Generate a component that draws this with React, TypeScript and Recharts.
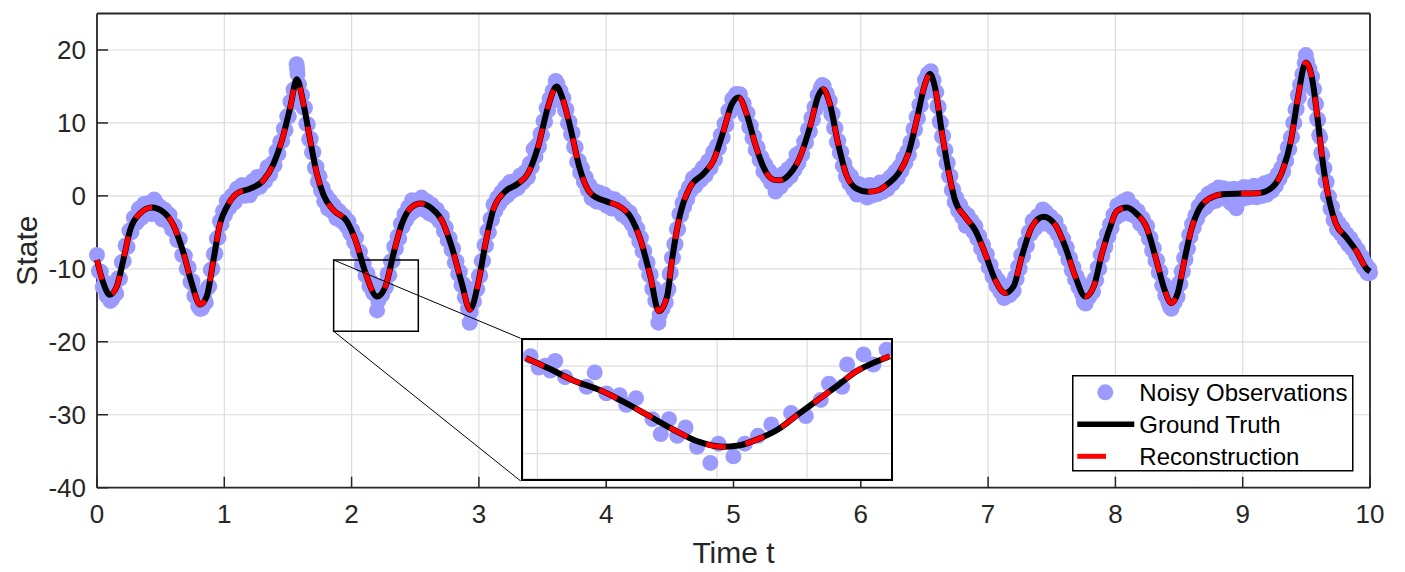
import React from "react";
import {
  ComposedChart,
  Line,
  Scatter,
  XAxis,
  YAxis,
  CartesianGrid,
  ReferenceArea,
  ReferenceLine,
  Legend,
} from "recharts";

// ---- data ----
const xTicks = [0, 1, 2, 3, 4, 5, 6, 7, 8, 9, 10];
const yTicks = [-40, -30, -20, -10, 0, 10, 20];

// [t, state]
const groundTruth: [number, number][] = [
  [0, -8.8], [0.05, -11.95], [0.1, -13.55], [0.155, -12.4], [0.207, -8.77], [0.26, -4.68],
  [0.338, -2.41], [0.43, -1.59], [0.52, -2.18], [0.6, -4.0], [0.68, -7.86], [0.744, -11.95],
  [0.81, -14.9], [0.862, -13.77], [0.915, -8.77], [0.967, -3.77], [1.02, -1.5], [1.098, 0.32],
  [1.203, 1.0], [1.308, 2.14], [1.387, 4.41], [1.452, 7.59], [1.518, 12.14], [1.57, 16.0],
  [1.622, 12.6], [1.675, 7.59], [1.727, 3.05], [1.78, 0.09], [1.858, -1.95], [1.963, -3.5],
  [2.03, -6.05], [2.11, -10.6], [2.2, -13.8], [2.266, -12.4], [2.33, -7.86], [2.396, -3.77],
  [2.474, -1.5], [2.54, -1.05], [2.63, -1.73], [2.708, -3.32], [2.786, -6.95], [2.865, -11.95],
  [2.93, -15.6], [2.995, -11.95], [3.047, -6.95], [3.112, -1.95], [3.203, 0.55], [3.307, 1.68],
  [3.385, 3.05], [3.464, 6.68], [3.542, 12.14], [3.61, 15.0], [3.66, 13.2], [3.724, 8.95],
  [3.789, 3.95], [3.88, 0.32], [4.01, -0.82], [4.086, -1.27], [4.19, -2.86], [4.27, -6.05],
  [4.347, -11.05], [4.413, -15.8], [4.478, -13.8], [4.517, -8.77], [4.582, -2.41], [4.66, 1.23],
  [4.765, 3.05], [4.843, 4.86], [4.922, 8.95], [4.987, 12.6], [5.04, 13.5], [5.104, 11.2],
  [5.17, 7.14], [5.235, 3.95], [5.313, 2.23], [5.366, 2.14], [5.444, 3.05], [5.522, 5.32],
  [5.6, 9.41], [5.666, 13.7], [5.705, 14.6], [5.757, 12.6], [5.822, 7.14], [5.888, 2.82],
  [5.966, 1.0], [6.057, 0.55], [6.136, 0.77], [6.215, 1.68], [6.294, 3.05], [6.373, 5.77],
  [6.438, 10.3], [6.504, 15.3], [6.543, 16.7], [6.583, 14.86], [6.635, 8.95], [6.688, 3.5],
  [6.74, -0.59], [6.819, -2.86], [6.898, -4.68], [6.976, -7.86], [7.055, -11.5], [7.134, -13.3],
  [7.2, -12.4], [7.265, -8.3], [7.344, -4.23], [7.436, -2.86], [7.528, -4.0], [7.606, -6.95],
  [7.685, -11.05], [7.764, -13.8], [7.83, -12.4], [7.895, -7.86], [7.96, -4.23], [8.01, -2.1],
  [8.09, -1.6], [8.164, -2.41], [8.243, -4.23], [8.321, -8.77], [8.386, -12.86], [8.439, -14.7],
  [8.49, -13.3], [8.543, -8.77], [8.595, -4.68], [8.66, -1.73], [8.739, -0.36], [8.843, 0.23],
  [9.0, 0.32], [9.13, 0.41], [9.235, 1.23], [9.313, 3.5], [9.379, 7.59], [9.43, 13.05],
  [9.496, 18.3], [9.548, 15.8], [9.587, 10.8], [9.627, 4.86], [9.679, -0.59], [9.731, -3.77],
  [9.81, -5.6], [9.888, -7.41], [9.979, -10.1], [10, -10.36],
];

// the reconstruction sits on top of the truth at this scale
const reconstruction = groundTruth;

const observations: [number, number][] = [
  [0, -8.1], [0.015, -10.3], [0.03, -10.4], [0.045, -12.5], [0.06, -11.8], [0.075, -13.7], [0.09, -13.8],
  [0.105, -14.4], [0.12, -14.1], [0.135, -12.6], [0.15, -13.4], [0.165, -11.3], [0.18, -11.35], [0.195, -9.1],
  [0.21, -8.95], [0.225, -6.8], [0.24, -7.0], [0.255, -4.75], [0.27, -5.0], [0.29, -3.0], [0.31, -3.7],
  [0.33, -1.75], [0.35, -3.0], [0.37, -1.1], [0.39, -2.35], [0.41, -0.97], [0.43, -2.5], [0.45, -0.5],
  [0.47, -2.35], [0.49, -1.4], [0.51, -3.2], [0.53, -1.9], [0.55, -3.5], [0.57, -2.6], [0.59, -4.6],
  [0.61, -4.1], [0.63, -6.05], [0.65, -5.9], [0.67, -8.1], [0.69, -8.2], [0.705, -9.95], [0.72, -9.8],
  [0.735, -11.8], [0.75, -11.7], [0.765, -13.7], [0.78, -13.25], [0.795, -15.1], [0.81, -15.5], [0.825, -15.4],
  [0.84, -13.75], [0.855, -14.6], [0.87, -12.6], [0.882, -12.4], [0.894, -10.15], [0.906, -10.0], [0.918, -8.0],
  [0.93, -7.9], [0.942, -5.87], [0.954, -5.7], [0.966, -3.47], [0.978, -3.9], [0.99, -2.1], [1.005, -2.65],
  [1.02, -0.7], [1.04, -1.6], [1.06, 0.03], [1.08, -0.9], [1.1, 1.0], [1.12, -0.04], [1.14, 1.5],
  [1.16, 0.02], [1.18, 1.25], [1.2, 0.08], [1.22, 1.99], [1.24, 1.0], [1.26, 2.6], [1.28, 1.24],
  [1.3, 2.75], [1.32, 1.98], [1.34, 3.96], [1.36, 2.93], [1.38, 4.5], [1.395, 4.2], [1.41, 6.14],
  [1.425, 5.77], [1.44, 7.4], [1.455, 7.5], [1.468, 9.2], [1.481, 9.0], [1.494, 10.9], [1.507, 10.9],
  [1.52, 12.9], [1.532, 12.8], [1.544, 14.57], [1.556, 14.36], [1.568, 18.05], [1.572, 17.4], [1.575, 16.7],
  [1.587, 15.3], [1.599, 13.6], [1.611, 13.8], [1.623, 12.1], [1.634, 12.07], [1.645, 9.9], [1.656, 9.8],
  [1.667, 7.75], [1.678, 7.83], [1.689, 5.97], [1.7, 6.0], [1.712, 3.86], [1.724, 4.01], [1.736, 1.95],
  [1.748, 2.68], [1.76, 0.7], [1.772, 1.14], [1.785, -0.74], [1.8, 0.07], [1.815, -1.73], [1.83, -0.62],
  [1.845, -2.1], [1.86, -1.28], [1.88, -3.08], [1.9, -2.07], [1.92, -3.46], [1.94, -2.76], [1.96, -4.16],
  [1.975, -3.46], [1.99, -5.13], [2.005, -4.7], [2.02, -6.37], [2.035, -5.73], [2.05, -7.69], [2.065, -7.64],
  [2.08, -9.5], [2.095, -9.25], [2.11, -10.9], [2.125, -10.63], [2.14, -12.37], [2.155, -11.8], [2.17, -13.33],
  [2.185, -12.97], [2.2, -15.7], [2.21, -14.4], [2.225, -12.9], [2.24, -13.55], [2.255, -12.13], [2.27, -12.5],
  [2.283, -10.7], [2.296, -10.87], [2.309, -8.95], [2.322, -8.93], [2.335, -6.95], [2.348, -7.24], [2.361, -5.54],
  [2.374, -5.83], [2.387, -3.83], [2.4, -4.25], [2.415, -2.5], [2.43, -3.28], [2.445, -1.54], [2.46, -2.5],
  [2.475, -0.6], [2.49, -2.09], [2.51, -0.65], [2.53, -1.62], [2.55, -0.23], [2.57, -1.88], [2.59, -0.73],
  [2.61, -2.38], [2.63, -1.23], [2.65, -2.74], [2.67, -1.85], [2.69, -3.45], [2.71, -2.81], [2.725, -4.81],
  [2.74, -4.31], [2.755, -6.11], [2.77, -5.8], [2.785, -7.4], [2.798, -7.2], [2.811, -9.13], [2.824, -8.96],
  [2.837, -10.68], [2.85, -10.4], [2.863, -12.22], [2.876, -12.07], [2.889, -13.9], [2.902, -13.73], [2.915, -15.46],
  [2.928, -17.39], [2.935, -15.92], [2.948, -14.19], [2.961, -14.46], [2.974, -12.63], [2.987, -12.8], [3.0, -10.97],
  [3.011, -10.91], [3.022, -8.95], [3.033, -8.9], [3.044, -6.74], [3.055, -6.83], [3.067, -4.81], [3.079, -4.99],
  [3.091, -3.17], [3.103, -3.24], [3.115, -1.17], [3.13, -2.05], [3.145, -0.24], [3.16, -1.13], [3.175, 0.48],
  [3.19, -0.41], [3.205, 1.17], [3.225, 0.09], [3.245, 1.91], [3.265, 0.72], [3.285, 2.04], [3.305, 1.06],
  [3.325, 2.8], [3.345, 1.85], [3.365, 3.3], [3.385, 2.55], [3.4, 4.44], [3.415, 3.93], [3.43, 6.42],
  [3.445, 5.41], [3.46, 7.0], [3.472, 6.74], [3.484, 8.48], [3.496, 8.32], [3.508, 10.26], [3.52, 10.2],
  [3.532, 12.04], [3.544, 11.72], [3.556, 13.33], [3.568, 12.84], [3.58, 14.44], [3.592, 13.94], [3.604, 15.75],
  [3.616, 15.38], [3.628, 13.95], [3.64, 14.42], [3.652, 12.99], [3.664, 13.44], [3.676, 11.74], [3.688, 11.84],
  [3.7, 9.94], [3.712, 10.15], [3.724, 8.45], [3.736, 8.63], [3.748, 6.7], [3.76, 6.68], [3.772, 4.66],
  [3.784, 4.83], [3.796, 3.17], [3.81, 3.81], [3.825, 1.91], [3.84, 2.52], [3.855, 0.82], [3.87, 1.42],
  [3.885, -0.32], [3.905, 0.7], [3.925, -0.77], [3.945, 0.45], [3.965, -0.92], [3.985, 0.2], [4.005, -1.38],
  [4.025, -0.31], [4.045, -1.73], [4.065, -0.45], [4.085, -1.77], [4.105, -0.96], [4.125, -2.57], [4.145, -1.67],
  [4.165, -3.08], [4.185, -2.28], [4.2, -3.86], [4.215, -3.26], [4.23, -4.96], [4.245, -4.45], [4.26, -6.25],
  [4.273, -5.75], [4.286, -7.59], [4.299, -7.54], [4.312, -9.38], [4.325, -9.12], [4.338, -10.87], [4.35, -10.77],
  [4.362, -12.73], [4.374, -12.6], [4.386, -14.36], [4.398, -14.42], [4.41, -17.38], [4.42, -16.28], [4.432, -14.7],
  [4.444, -15.45], [4.456, -14.08], [4.468, -14.6], [4.48, -13.04], [4.489, -12.78], [4.498, -10.72], [4.507, -10.56],
  [4.516, -8.5], [4.525, -8.49], [4.535, -6.61], [4.545, -6.63], [4.555, -4.55], [4.565, -4.57], [4.575, -2.49],
  [4.588, -2.63], [4.6, -0.97], [4.612, -1.51], [4.624, 0.15], [4.636, -0.49], [4.648, 1.17], [4.66, 0.63],
  [4.68, 2.38], [4.7, 1.33], [4.72, 2.97], [4.74, 2.12], [4.76, 3.86], [4.78, 2.8], [4.8, 4.76],
  [4.82, 3.82], [4.84, 5.99], [4.855, 4.98], [4.87, 6.86], [4.885, 6.54], [4.9, 8.31], [4.915, 7.99],
  [4.93, 9.9], [4.945, 9.74], [4.96, 11.68], [4.975, 11.53], [4.99, 13.25], [5.005, 12.4], [5.02, 13.96],
  [5.035, 13.82], [5.05, 13.94], [5.065, 12.1], [5.08, 12.66], [5.095, 11.02], [5.11, 11.33], [5.123, 9.43],
  [5.136, 9.63], [5.149, 7.93], [5.162, 8.13], [5.175, 6.29], [5.19, 6.66], [5.205, 4.92], [5.22, 5.29],
  [5.235, 3.35], [5.25, 4.32], [5.265, 2.69], [5.28, 3.46], [5.295, 1.83], [5.31, 2.7], [5.33, 0.6],
  [5.35, 2.67], [5.37, 1.29], [5.39, 3.02], [5.41, 2.05], [5.43, 3.69], [5.45, 2.72], [5.465, 4.26],
  [5.48, 3.6], [5.495, 5.64], [5.51, 4.47], [5.525, 5.98], [5.54, 5.66], [5.555, 7.44], [5.57, 7.32],
  [5.585, 9.1], [5.6, 8.81], [5.612, 10.69], [5.624, 10.47], [5.636, 12.15], [5.648, 11.93], [5.66, 13.81],
  [5.672, 13.44], [5.684, 14.72], [5.696, 15.19], [5.708, 15.08], [5.72, 13.62], [5.732, 14.06], [5.744, 12.6],
  [5.756, 13.04], [5.768, 11.18], [5.779, 11.25], [5.79, 9.33], [5.801, 9.3], [5.812, 7.38], [5.823, 7.57],
  [5.835, 5.89], [5.847, 6.01], [5.859, 4.12], [5.871, 4.44], [5.883, 2.65], [5.895, 3.26], [5.91, 1.71],
  [5.925, 2.66], [5.94, 0.91], [5.955, 1.76], [5.97, 0.18], [5.99, 1.58], [6.01, 0.18], [6.03, 1.28],
  [6.05, -0.22], [6.07, 1.49], [6.09, 0.04], [6.11, 1.3], [6.13, 0.25], [6.15, 1.83], [6.17, 0.56],
  [6.19, 1.89], [6.21, 0.92], [6.23, 2.54], [6.25, 1.69], [6.27, 3.33], [6.29, 2.48], [6.305, 4.03],
  [6.32, 3.44], [6.335, 5.16], [6.35, 4.48], [6.365, 6.09], [6.378, 5.62], [6.39, 7.36], [6.402, 7.19],
  [6.414, 9.13], [6.426, 9.06], [6.438, 10.8], [6.449, 10.63], [6.46, 12.47], [6.471, 12.4], [6.482, 14.13],
  [6.493, 13.97], [6.504, 15.9], [6.515, 15.29], [6.527, 16.73], [6.539, 16.86], [6.55, 17.08], [6.561, 15.47],
  [6.572, 15.87], [6.583, 14.36], [6.593, 14.22], [6.602, 12.3], [6.611, 12.18], [6.62, 10.16], [6.629, 10.03],
  [6.638, 8.14], [6.647, 8.22], [6.656, 6.19], [6.665, 6.27], [6.674, 4.44], [6.683, 4.51], [6.693, 2.71],
  [6.704, 2.74], [6.715, 0.77], [6.726, 0.9], [6.737, -0.85], [6.75, -0.28], [6.765, -2.01], [6.78, -1.24],
  [6.795, -2.87], [6.81, -2.2], [6.825, -4.1], [6.84, -2.64], [6.855, -4.19], [6.87, -3.44], [6.885, -4.88],
  [6.9, -4.16], [6.915, -5.87], [6.93, -5.48], [6.945, -7.2], [6.96, -6.71], [6.975, -8.32], [6.99, -8.0],
  [7.005, -9.8], [7.02, -9.49], [7.035, -11.08], [7.05, -10.87], [7.065, -12.33], [7.08, -11.57], [7.095, -13.11],
  [7.11, -12.45], [7.125, -14.0], [7.14, -13.82], [7.155, -12.61], [7.17, -13.61], [7.185, -12.1], [7.2, -13.0],
  [7.212, -11.14], [7.224, -11.39], [7.236, -9.73], [7.248, -9.97], [7.26, -8.12], [7.275, -8.29], [7.29, -6.51],
  [7.305, -6.84], [7.32, -4.97], [7.335, -5.19], [7.35, -3.44], [7.37, -4.44], [7.39, -2.75], [7.41, -3.85],
  [7.43, -1.85], [7.45, -2.13], [7.47, -3.88], [7.49, -2.83], [7.51, -4.38], [7.53, -3.48], [7.545, -5.24],
  [7.56, -4.71], [7.575, -6.38], [7.59, -5.85], [7.605, -7.41], [7.618, -7.07], [7.631, -8.75], [7.644, -8.52],
  [7.657, -10.2], [7.67, -9.77], [7.683, -11.45], [7.696, -11.03], [7.71, -12.52], [7.724, -12.0], [7.738, -13.49],
  [7.752, -14.48], [7.766, -14.76], [7.78, -13.06], [7.795, -13.84], [7.81, -12.42], [7.825, -13.11], [7.837, -11.41],
  [7.849, -11.57], [7.861, -9.84], [7.873, -10.0], [7.885, -8.06], [7.897, -8.25], [7.909, -6.68], [7.921, -7.01],
  [7.933, -5.24], [7.945, -5.57], [7.957, -3.9], [7.97, -4.4], [7.985, -2.57], [8.0, -3.03], [8.015, -1.27],
  [8.035, -2.64], [8.055, -0.82], [8.075, -2.19], [8.095, -0.46], [8.115, -2.48], [8.135, -1.39], [8.155, -2.81],
  [8.175, -2.06], [8.195, -3.82], [8.215, -3.09], [8.235, -4.65], [8.25, -4.14], [8.263, -5.89], [8.276, -5.75],
  [8.289, -7.51], [8.302, -7.17], [8.315, -8.92], [8.328, -8.81], [8.341, -10.53], [8.354, -10.35], [8.367, -12.26],
  [8.38, -12.08], [8.392, -13.67], [8.404, -13.18], [8.416, -14.6], [8.428, -15.22], [8.44, -15.47], [8.452, -13.94],
  [8.464, -14.61], [8.476, -13.28], [8.488, -13.86], [8.5, -11.95], [8.51, -12.1], [8.52, -10.34], [8.53, -10.38],
  [8.54, -8.53], [8.55, -8.72], [8.56, -7.03], [8.57, -7.25], [8.58, -5.36], [8.59, -5.57], [8.602, -3.86],
  [8.615, -4.38], [8.628, -2.69], [8.641, -3.2], [8.654, -1.4], [8.67, -2.16], [8.69, -0.51], [8.71, -1.56],
  [8.73, 0.28], [8.75, -0.9], [8.77, 0.71], [8.79, -0.67], [8.81, 1.14], [8.83, -0.34], [8.85, 1.03],
  [8.87, -0.45], [8.89, 0.86], [8.91, -1.03], [8.93, 0.98], [8.95, -1.71], [8.97, 0.8], [8.99, -0.49],
  [9.01, 1.23], [9.03, -0.26], [9.05, 1.15], [9.07, -0.13], [9.09, 1.38], [9.11, -0.2], [9.13, 1.21],
  [9.15, -0.03], [9.17, 1.72], [9.19, 0.18], [9.21, 1.93], [9.23, 0.69], [9.245, 2.22], [9.26, 1.36],
  [9.275, 2.99], [9.29, 2.33], [9.305, 3.87], [9.318, 3.31], [9.33, 5.05], [9.342, 4.8], [9.354, 6.64],
  [9.366, 6.38], [9.378, 8.03], [9.388, 8.05], [9.397, 10.02], [9.406, 9.98], [9.415, 11.85], [9.424, 11.91],
  [9.433, 13.79], [9.442, 13.51], [9.451, 15.23], [9.46, 15.05], [9.469, 16.67], [9.478, 16.48], [9.487, 18.2],
  [9.496, 19.3], [9.505, 18.47], [9.515, 16.99], [9.525, 17.41], [9.535, 15.92], [9.545, 16.34], [9.553, 14.66],
  [9.561, 14.63], [9.569, 12.7], [9.577, 12.58], [9.585, 10.56], [9.593, 10.41], [9.601, 8.32], [9.609, 8.03],
  [9.617, 5.84], [9.625, 5.56], [9.633, 3.73], [9.642, 3.79], [9.651, 1.95], [9.66, 1.9], [9.669, -0.04],
  [9.678, -0.09], [9.69, -1.76], [9.702, -1.49], [9.714, -3.33], [9.726, -2.96], [9.74, -4.58], [9.755, -3.73],
  [9.77, -5.17], [9.785, -4.42], [9.8, -5.97], [9.815, -5.22], [9.83, -6.66], [9.845, -5.81], [9.86, -7.26],
  [9.875, -6.61], [9.89, -8.07], [9.905, -7.41], [9.92, -8.95], [9.935, -8.3], [9.95, -9.84], [9.965, -9.29],
  [9.98, -10.6], [9.995, -10.0], [10, -10.56],
];

// magnified view (inset)
const insetXTicks = [2.1, 2.2, 2.25];
const insetYTicks = [-14, -12, -10];

const insetTruth: [number, number][] = [
  [2.0936, -9.63], [2.1074, -10.15], [2.1203, -10.67], [2.135, -11.11], [2.1478, -11.63], [2.1606, -12.21],
  [2.1753, -12.89], [2.19, -13.47], [2.2028, -13.69], [2.212, -13.63], [2.223, -13.33], [2.234, -12.89],
  [2.245, -12.21], [2.256, -11.55], [2.267, -10.89], [2.278, -10.21], [2.287, -9.85], [2.296, -9.55],
];

const insetObs: [number, number][] = [
  [2.0962, -9.55], [2.1007, -10.07], [2.1044, -9.99], [2.1072, -10.21], [2.1099, -9.77], [2.1154, -10.51],
  [2.1274, -10.95], [2.1319, -10.29], [2.1384, -11.25], [2.1457, -11.33], [2.1494, -11.77], [2.1549, -11.47],
  [2.164, -12.43], [2.1686, -13.11], [2.1732, -12.43], [2.1778, -13.19], [2.1824, -12.81], [2.1888, -13.69],
  [2.1962, -14.43], [2.2007, -13.55], [2.209, -14.13], [2.2154, -13.55], [2.2227, -13.19], [2.2301, -12.67],
  [2.2411, -12.15], [2.2493, -12.29], [2.2576, -11.55], [2.2622, -10.81], [2.2695, -10.95], [2.2723, -9.93],
  [2.2814, -9.47], [2.2869, -9.93], [2.2942, -9.25],
];

const legendItems = [
  { label: "Noisy Observations", kind: "dot" },
  { label: "Ground Truth", kind: "solid" },
  { label: "Reconstruction", kind: "dash" },
];

// ---- look ----
const FONT = '"Liberation Sans", Arial, Helvetica, sans-serif';
const AXIS_COLOR = "#262626";
const GRID_COLOR = "#dcdcdc";
const OBS_COLOR = "#9b9bff";
const RED = "#ff0000";
const DASH = "20 20";
const TRUTH_W = 6;
const RECON_W = 5;
const DOT_R = 8;

const W = 1405;
const H = 572;
// plot box in page pixels (margins below are chosen to land on it)
const PLOT = { left: 97, top: 13.5, right: 1370, bottom: 487.7 };
const X_DOMAIN: [number, number] = [0, 10];
const Y_DOMAIN: [number, number] = [-40, 25];
const plotMargin = { top: PLOT.top, left: PLOT.left, right: W - PLOT.right, bottom: H - PLOT.bottom };

const toPx = (t: number) =>
  PLOT.left + ((t - X_DOMAIN[0]) / (X_DOMAIN[1] - X_DOMAIN[0])) * (PLOT.right - PLOT.left);
const toPy = (s: number) =>
  PLOT.top + ((Y_DOMAIN[1] - s) / (Y_DOMAIN[1] - Y_DOMAIN[0])) * (PLOT.bottom - PLOT.top);

// zoom rectangle and where the inset sits, in main-axis units
const zoomBox = { t0: 1.859, t1: 2.524, s0: -18.56, s1: -8.79 };
const insetAt = { t0: 3.328, t1: 6.255, s0: -39.08, s1: -19.52 };
const insetDomainX: [number, number] = [2.092, 2.297];
const insetDomainY: [number, number] = [-15.15, -8.81];

const toRows = (pts: [number, number][]) => pts.map(([t, s]) => ({ t, s }));
const truthData = toRows(groundTruth);
const reconData = toRows(reconstruction);
const obsData = toRows(observations);
const insetTruthData = toRows(insetTruth);
const insetObsData = toRows(insetObs);

const tickStyle = { fill: AXIS_COLOR, fontSize: 26, fontFamily: FONT };
const tickLineStyle = { stroke: AXIS_COLOR, strokeWidth: 1.5 };
const axisLineStyle = { stroke: AXIS_COLOR, strokeWidth: 1.8 };
const blank = () => "";
const layer: React.CSSProperties = { position: "absolute", left: 0, top: 0 };

const ObsDot = (p: any) => <circle cx={p.cx} cy={p.cy} r={DOT_R} fill={OBS_COLOR} />;

function XTitle(props: any) {
  const vb = props.viewBox ?? { x: 97, y: 487.7, width: 1273, height: 50 };
  return (
    <text x={vb.x + vb.width / 2} y={vb.y + 75} textAnchor="middle" fill={AXIS_COLOR} fontSize={30} fontFamily={FONT}>
      Time t
    </text>
  );
}

function YTitle(props: any) {
  const vb = props.viewBox ?? { x: 7, y: 13.5, width: 90, height: 474 };
  const x = vb.x + 30;
  const y = vb.y + vb.height / 2;
  return (
    <text x={x} y={y} transform={`rotate(-90 ${x} ${y})`} textAnchor="middle" fill={AXIS_COLOR} fontSize={30} fontFamily={FONT}>
      State
    </text>
  );
}

function LegendBox() {
  const rowH = 32;
  return (
    <svg width={282} height={97} style={{ display: "block" }}>
      <rect x={0.75} y={0.75} width={280} height={95} fill="#fff" stroke="#000" strokeWidth={1.5} />
      {legendItems.map((it, i) => {
        const cy = 17.3 + i * rowH;
        return (
          <g key={it.label}>
            {it.kind === "dot" && <circle cx={33.3} cy={cy} r={8} fill={OBS_COLOR} />}
            {it.kind === "solid" && <line x1={5.3} x2={62.3} y1={cy} y2={cy} stroke="#000" strokeWidth={5.5} />}
            {it.kind === "dash" && <line x1={5.3} x2={34} y1={cy} y2={cy} stroke={RED} strokeWidth={5} />}
            <text x={67.3} y={cy + 8.6} fontSize={24} fontFamily={FONT} fill="#000">
              {it.label}
            </text>
          </g>
        );
      })}
    </svg>
  );
}

// Two stacked charts with identical scales: the observations underneath,
// the truth and reconstruction lines on top of them.
function Inset() {
  const left = toPx(insetAt.t0);
  const top = toPy(insetAt.s1);
  const width = toPx(insetAt.t1) - left;
  const height = toPy(insetAt.s0) - top;
  const iw = width - 4;
  const ih = height - 4;
  const m = { top: 0, right: 0, bottom: 0, left: 0 };
  return (
    <div
      style={{
        position: "absolute",
        left,
        top,
        width,
        height,
        boxSizing: "border-box",
        border: "2px solid #000",
        background: "#fff",
        overflow: "hidden",
      }}
    >
      <div style={layer}>
        <ComposedChart width={iw} height={ih} margin={m}>
          <CartesianGrid stroke={GRID_COLOR} strokeWidth={1.2} />
          <XAxis type="number" dataKey="t" domain={insetDomainX} ticks={insetXTicks} allowDataOverflow hide />
          <YAxis type="number" domain={insetDomainY} ticks={insetYTicks} allowDataOverflow hide />
          <Scatter data={insetObsData} dataKey="s" shape={ObsDot} isAnimationActive={false} />
        </ComposedChart>
      </div>
      <div style={layer}>
        <ComposedChart width={iw} height={ih} margin={m}>
          <XAxis type="number" dataKey="t" domain={insetDomainX} ticks={insetXTicks} allowDataOverflow hide />
          <YAxis type="number" domain={insetDomainY} ticks={insetYTicks} allowDataOverflow hide />
          <Line data={insetTruthData} dataKey="s" type="monotone" stroke="#000" strokeWidth={TRUTH_W} dot={false} activeDot={false} isAnimationActive={false} />
          <Line data={insetTruthData} dataKey="s" type="monotone" stroke={RED} strokeWidth={RECON_W} strokeDasharray={DASH} dot={false} activeDot={false} isAnimationActive={false} />
        </ComposedChart>
      </div>
    </div>
  );
}

export default function App() {
  return (
    <div style={{ position: "absolute", left: 0, top: 0, width: W, height: H, background: "#fff", fontFamily: FONT }}>
      {/* base layer: grid, axes, observations */}
      <div style={layer}>
        <ComposedChart width={W} height={H} margin={{ top: 12.5, right: 34, bottom: 34.3, left: 7 }}>
          <CartesianGrid stroke={GRID_COLOR} strokeWidth={1.2} />
          <XAxis
            type="number"
            dataKey="t"
            domain={X_DOMAIN}
            ticks={xTicks}
            interval={0}
            height={50}
            tick={tickStyle}
            tickSize={-11}
            tickMargin={28}
            tickLine={tickLineStyle}
            axisLine={axisLineStyle}
            label={<XTitle />}
          />
          <XAxis
            xAxisId="top"
            type="number"
            orientation="top"
            domain={X_DOMAIN}
            ticks={xTicks}
            interval={0}
            height={1}
            tickFormatter={blank}
            tickSize={-11}
            tickLine={tickLineStyle}
            axisLine={axisLineStyle}
          />
          <YAxis
            type="number"
            domain={Y_DOMAIN}
            ticks={yTicks}
            interval={0}
            width={90}
            tick={tickStyle}
            tickSize={-11}
            tickMargin={22}
            tickLine={tickLineStyle}
            axisLine={axisLineStyle}
            label={<YTitle />}
          />
          <YAxis
            yAxisId="right"
            type="number"
            orientation="right"
            domain={Y_DOMAIN}
            ticks={yTicks}
            interval={0}
            width={1}
            tickFormatter={blank}
            tickSize={-11}
            tickLine={tickLineStyle}
            axisLine={axisLineStyle}
          />
          <Scatter name="Noisy Observations" data={obsData} dataKey="s" shape={ObsDot} isAnimationActive={false} />
        </ComposedChart>
      </div>
      {/* top layer: same scales, lines + zoom annotation + legend */}
      <div style={layer}>
        <ComposedChart width={W} height={H} margin={plotMargin}>
          <XAxis type="number" dataKey="t" domain={X_DOMAIN} ticks={xTicks} hide />
          <YAxis type="number" domain={Y_DOMAIN} ticks={yTicks} hide />
          <Line name="Ground Truth" data={truthData} dataKey="s" type="monotone" stroke="#000" strokeWidth={TRUTH_W} dot={false} activeDot={false} isAnimationActive={false} />
          <Line name="Reconstruction" data={reconData} dataKey="s" type="monotone" stroke={RED} strokeWidth={RECON_W} strokeDasharray={DASH} dot={false} activeDot={false} isAnimationActive={false} />
          <ReferenceArea
            x1={zoomBox.t0}
            x2={zoomBox.t1}
            y1={zoomBox.s0}
            y2={zoomBox.s1}
            fill="none"
            fillOpacity={0}
            stroke="#000"
            strokeWidth={1.5}
          />
          <ReferenceLine
            segment={[{ x: zoomBox.t0, y: zoomBox.s1 }, { x: insetAt.t0, y: insetAt.s1 }]}
            stroke="#000"
            strokeWidth={1}
          />
          <ReferenceLine
            segment={[{ x: zoomBox.t0, y: zoomBox.s0 }, { x: insetAt.t0, y: insetAt.s0 }]}
            stroke="#000"
            strokeWidth={1}
          />
          <Legend
            layout="vertical"
            align="center"
            verticalAlign="middle"
            content={() => <LegendBox />}
            wrapperStyle={{ left: 1072, top: 375, width: 282, height: 97 }}
          />
        </ComposedChart>
      </div>
      <Inset />
    </div>
  );
}
